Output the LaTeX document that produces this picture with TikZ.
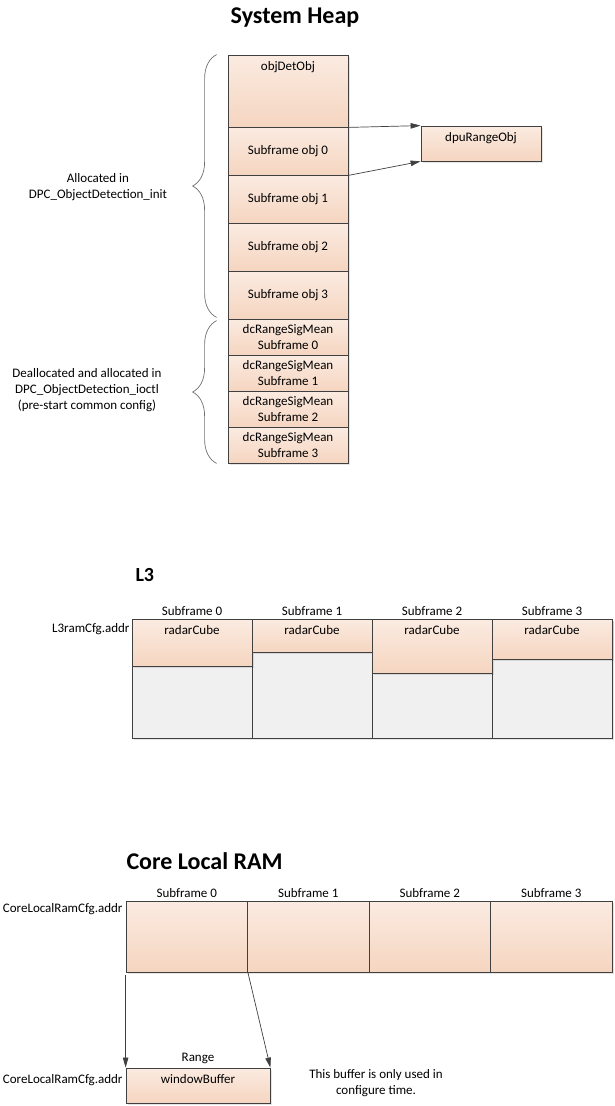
\documentclass[tikz,border=0pt]{standalone}
\usepackage{fontspec}
\setmainfont{Carlito}
\usetikzlibrary{arrows.meta,decorations.pathreplacing,shadows}
\definecolor{peachtop}{HTML}{FBEBE1}
\definecolor{peachbot}{HTML}{F5D5C0}
\definecolor{linegray}{HTML}{404040}
\definecolor{cellgray}{HTML}{F0F0F0}
\definecolor{bracegray}{HTML}{707070}
\tikzset{
  boxshadow/.style={drop shadow={shadow xshift=1.5pt,shadow yshift=-1.5pt,fill=black,opacity=0.1}},
  membox/.style={shape=rectangle,draw=linegray,line width=0.8pt,top color=peachtop,bottom color=peachbot,inner sep=0pt,minimum width=120pt,boxshadow},
  emptybox/.style={shape=rectangle,draw=linegray,line width=0.8pt,fill=cellgray,inner sep=0pt,minimum width=120pt,boxshadow},
  title/.style={font=\fontsize{24}{28}\selectfont\bfseries},
  txt/.style={font=\fontsize{13}{16}\selectfont,align=center},
  toptxt/.style={txt,anchor=north,yshift=-3pt},
  ptr/.style={draw=linegray,line width=0.7pt,-{Triangle[length=10pt,width=5.5pt]}},
  brc/.style={draw=bracegray,line width=0.7pt,decorate,decoration={brace,amplitude=24pt}}
}
\begin{document}
\begin{tikzpicture}[x=1pt,y=-1pt]
\useasboundingbox (0,0) rectangle (615,1106);
% system heap
\node (t1) at (295,18) [title] {System Heap};
\node (h0) at (288,91) [membox,minimum height=72pt,label={[toptxt]north:objDetObj}] {};
\node (h1) at (288,151) [membox,minimum height=48pt,txt] {Subframe obj 0};
\node (h2) at (288,199) [membox,minimum height=48pt,txt] {Subframe obj 1};
\node (h3) at (288,247) [membox,minimum height=48pt,txt] {Subframe obj 2};
\node (h4) at (288,295) [membox,minimum height=48pt,txt] {Subframe obj 3};
\node (h5) at (288,337) [membox,minimum height=36pt,txt] {dcRangeSigMean\\Subframe 0};
\node (h6) at (288,373) [membox,minimum height=36pt,txt] {dcRangeSigMean\\Subframe 1};
\node (h7) at (288,409) [membox,minimum height=36pt,txt] {dcRangeSigMean\\Subframe 2};
\node (h8) at (288,445) [membox,minimum height=36pt,txt] {dcRangeSigMean\\Subframe 3};
\node (dpu) at (481,143.5) [membox,minimum height=35pt,label={[toptxt]north:dpuRangeObj}] {};
\draw[ptr] (h0.south east) -- (dpu.north west);
\draw[ptr] (h1.south east) -- (dpu.south west);
\draw[brc] ([xshift=-11pt,yshift=2pt]h4.south west) -- ([xshift=-11pt]h0.north west);
\draw[brc] ([xshift=-11pt]h8.south west) -- ([xshift=-11pt,yshift=-2pt]h5.north west);
\node (a1) at (98,187) [txt] {Allocated in\\DPC\_ObjectDetection\_init};
\node (a2) at (87,390) [txt] {Deallocated and allocated in\\DPC\_ObjectDetection\_ioctl\\(pre-start common config)};
% L3
\node (t2) at (132,575) [title,font=\fontsize{20}{24}\selectfont\bfseries,anchor=west] {L3};
\node (l3addr) at (133,629) [txt,anchor=east] {L3ramCfg.addr};
\node (g1) at (192,678.5) [emptybox,minimum height=119pt] {};
\node (g2) at (312,678.5) [emptybox,minimum height=119pt] {};
\node (g3) at (432,678.5) [emptybox,minimum height=119pt] {};
\node (g4) at (552,678.5) [emptybox,minimum height=119pt] {};
\node (r1) at (192,619) [membox,anchor=north,minimum height=47pt,label={[toptxt]north:radarCube}] {};
\node (r2) at (312,619) [membox,anchor=north,minimum height=33pt,label={[toptxt]north:radarCube}] {};
\node (r3) at (432,619) [membox,anchor=north,minimum height=54pt,label={[toptxt]north:radarCube}] {};
\node (r4) at (552,619) [membox,anchor=north,minimum height=40pt,label={[toptxt]north:radarCube}] {};
\node (s1) at (192,611) [txt] {Subframe 0};
\node (s2) at (312,611) [txt] {Subframe 1};
\node (s3) at (432,611) [txt] {Subframe 2};
\node (s4) at (552,611) [txt] {Subframe 3};
% core local RAM
\node (t3) at (123,861) [title,anchor=west] {Core Local RAM};
\node (cladd1) at (126,909) [txt,anchor=east] {CoreLocalRamCfg.addr};
\node (c1) at (186.75,936.5) [membox,minimum width=121.5pt,minimum height=71pt] {};
\node (c2) at (308.25,936.5) [membox,minimum width=121.5pt,minimum height=71pt] {};
\node (c3) at (429.75,936.5) [membox,minimum width=121.5pt,minimum height=71pt] {};
\node (c4) at (551.25,936.5) [membox,minimum width=121.5pt,minimum height=71pt] {};
\node (u1) at (186.75,893) [txt] {Subframe 0};
\node (u2) at (308.25,893) [txt] {Subframe 1};
\node (u3) at (429.75,893) [txt] {Subframe 2};
\node (u4) at (551.25,893) [txt] {Subframe 3};
\node (wb) at (198,1085.5) [membox,minimum width=144pt,minimum height=35pt,label={[toptxt]north:windowBuffer}] {};
\node (rng) at (198,1058) [txt] {Range};
\node (cladd2) at (126,1080) [txt,anchor=east] {CoreLocalRamCfg.addr};
\draw[ptr,shorten <=3pt] (c1.south west) -- (wb.north west);
\draw[ptr] (c1.south east) -- (wb.north east);
\node (note) at (376,1083) [txt] {This buffer is only used in\\configure time.};
\end{tikzpicture}
\end{document}
